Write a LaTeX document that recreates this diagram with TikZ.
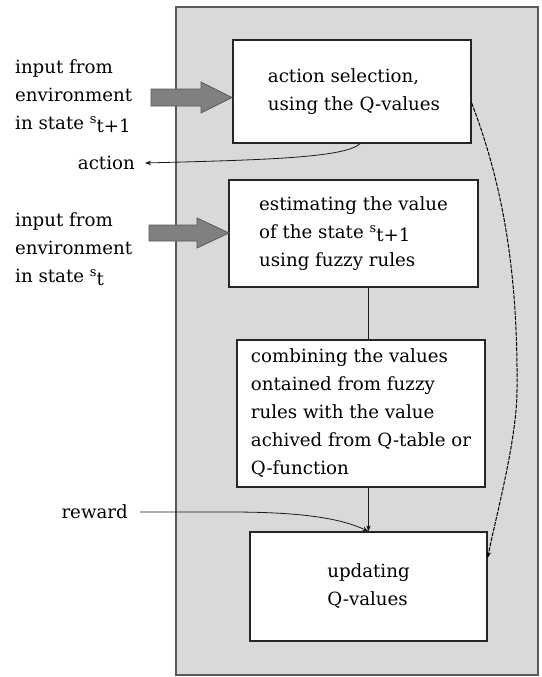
\documentclass[tikz,border=0pt]{standalone}
\usepackage{fontspec}
\setmainfont{DejaVu Serif}
\usetikzlibrary{arrows.meta,calc}
% state symbol: small raised s followed by its lowered index
\newcommand\stsub[1]{\raisebox{5.5pt}{\fontsize{13}{13}\selectfont s}\raisebox{-3pt}{#1}}
\begin{document}
\begin{tikzpicture}[x=1pt,y=-1pt,
  every node/.style={font=\fontsize{18.2}{28}\selectfont},
  panel/.style={draw=black!65, line width=2pt, fill=black!15},
  box/.style={draw=black!85, line width=1.3pt, fill=white, inner sep=0pt},
  lbl/.style={inner sep=0pt, align=left},
  thinline/.style={draw=black!90, line width=0.8pt},
  tipped/.style={-{Stealth[length=6pt,width=4.5pt]}},
  finedash/.style={draw=black, line width=1pt, dash pattern=on 4pt off 1.2pt},
  fatarrow/.style={fill=black!50, draw=black!65, line width=0.8pt}
]
\useasboundingbox (0,0) rectangle (541,677);

% grey agent panel
\draw[panel] (176,7) rectangle (538,675);

% processing blocks
\node[box, minimum width=238, minimum height=103, align=left] (b1) at (352,91.5)
  {\hspace*{4pt}action selection,\\ \hspace*{4pt}using the Q-values};
\node[box, minimum width=249, minimum height=107, align=left] (b2) at (353.5,233.5)
  {estimating the value\\ of the state \stsub{t+1}\\ using fuzzy rules};
\node[box, minimum width=248, minimum height=147, align=left] (b3) at (361,413.5)
  {combining the values\\ ontained from fuzzy\\ rules with the value\\ achived from Q-table or\\ Q-function};
\node[box, minimum width=237, minimum height=109, align=left] (b4) at (368.5,586.5)
  {updating\\ Q-values};

% outside labels
\node[lbl, anchor=west] (in1) at (15,96) {input from\\ environment\\ in state \stsub{t+1}};
\node[lbl, anchor=west] (in2) at (15,249) {input from\\ environment\\ in state \stsub{t}};
\node[lbl, anchor=east] (act) at (135,163) {action};
\node[lbl, anchor=east] (rew) at (128,512) {reward};

% thick grey input arrows
\filldraw[fatarrow] (151,89) -- (201,89) -- (201,82) -- (232,97.5) -- (201,113) -- (201,106) -- (151,106) -- cycle;
\filldraw[fatarrow] (149,225) -- (197,225) -- (197,218) -- (229,233) -- (197,248) -- (197,241) -- (149,241) -- cycle;

% connectors
\draw[thinline] (b2.south -| b4.north) -- (b3.north -| b4.north);
\draw[thinline, tipped] (b3.south -| b4.north) -- (b4.north);
\draw[thinline, tipped] ([xshift=12pt]rew.east) -- (230,512)
  .. controls (300,512) and (340,518) .. (b4.north);
\draw[thinline, tipped] ($(b1.south)+(8,0)$)
  .. controls (345,158) and (260,160) .. ([xshift=10pt]act.east);
\draw[finedash, tipped] ($(b1.east)+(0,11.5)$)
  .. controls (505,190) and (518,280) .. (517,390)
  .. controls (517,440) and (495,520) .. ($(b4.east)+(0,-28.5)$);
\end{tikzpicture}
\end{document}
